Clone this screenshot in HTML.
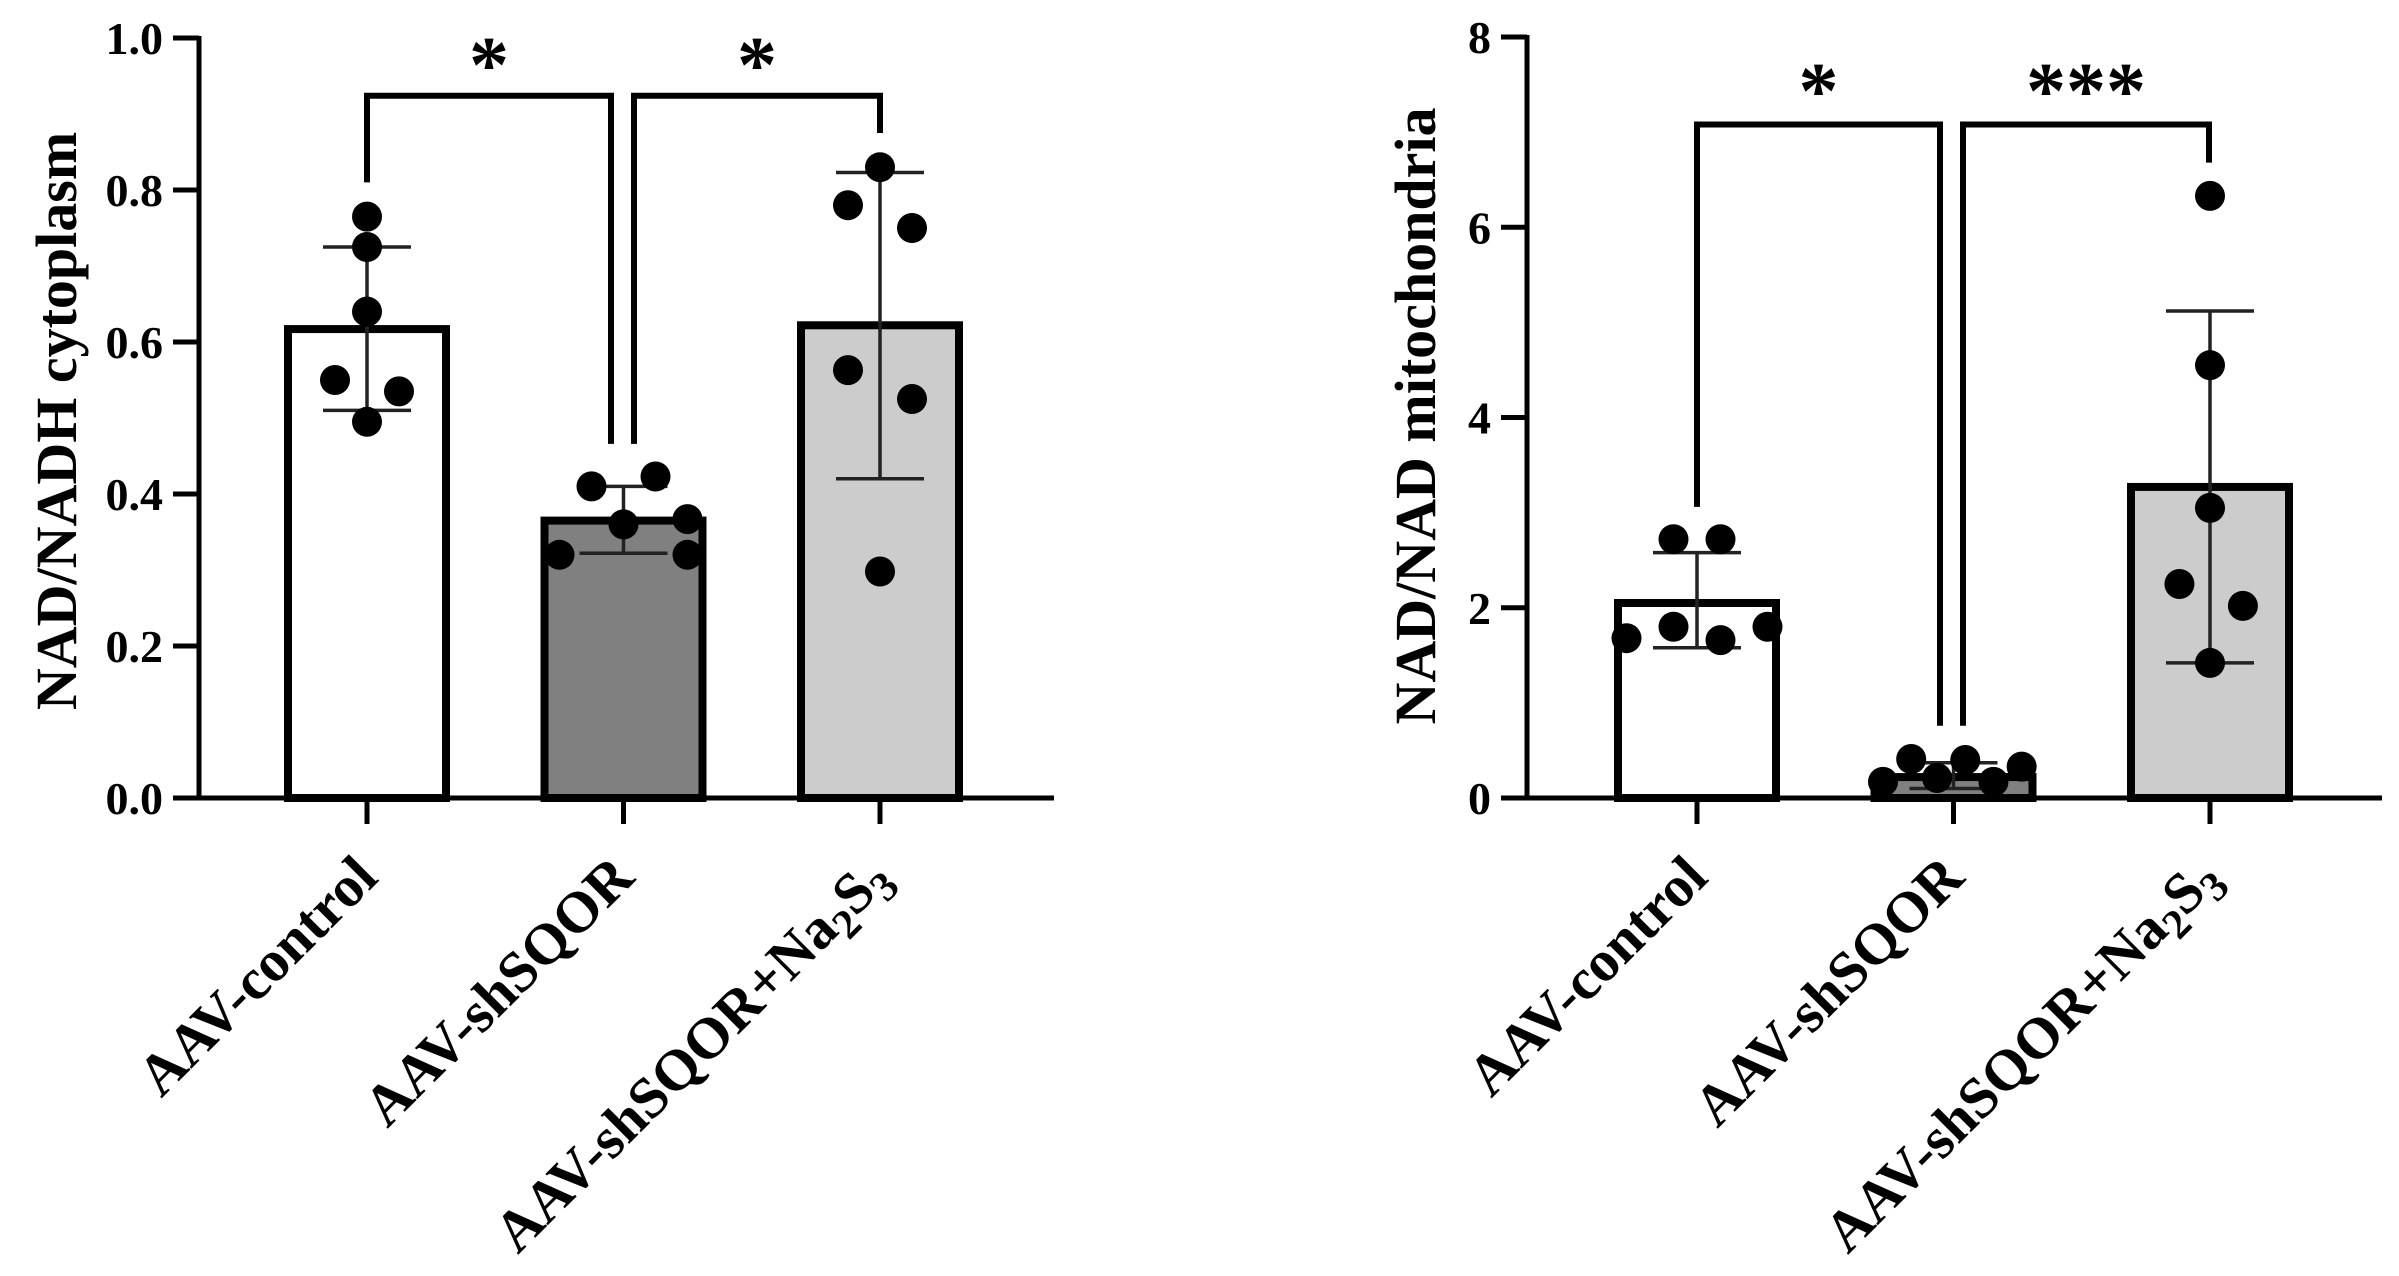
<!DOCTYPE html>
<html><head><meta charset="utf-8"><style>
html,body{margin:0;padding:0;background:#fff;}
svg{display:block;}
text{font-family:"Liberation Serif",serif;font-weight:bold;fill:#000;}
</style></head><body>
<svg id="c" width="2399" height="1276" viewBox="0 0 2399 1276" xmlns="http://www.w3.org/2000/svg"></svg>
<script>
// ---- data ----
const categories = ["AAV-control","AAV-shSQOR","AAV-shSQOR+Na2S3"];
const leftMeans = [0.617, 0.365, 0.622];
const leftSdLow = [0.51, 0.322, 0.42];
const leftSdHigh = [0.725, 0.41, 0.823];
const leftPoints = [[0.765,0.725,0.64,0.55,0.535,0.495],[0.41,0.423,0.36,0.367,0.32,0.32],[0.83,0.78,0.75,0.563,0.525,0.298]];
const leftJitter = [[0,0,0,-1,1,0],[-1,1,0,2,-2,2],[0,-1,1,-1,1,0]];
const leftTicks = [0,0.2,0.4,0.6,0.8,1.0];
const leftTickLabels = ["0.0","0.2","0.4","0.6","0.8","1.0"];
const rightMeans = [2.05, 0.22, 3.27];
const rightSdLow = [1.58, 0.1, 1.42];
const rightSdHigh = [2.58, 0.37, 5.12];
const rightPoints = [[1.68,1.80,1.66,1.80,2.72,2.72],[0.17,0.41,0.21,0.40,0.17,0.33],[6.33,4.55,3.05,2.25,2.02,1.42]];
const rightJitter = [[-3,-1,1,3,-1,1],[-3,-1.8,-0.7,0.5,1.7,2.9],[0,0,0,-1.3,1.4,0]];
const rightTicks = [0,2,4,6,8];
const rightTickLabels = ["0","2","4","6","8"];
const fills = ["#ffffff","#808080","#cccccc"];

const NS="http://www.w3.org/2000/svg";
const svg=document.getElementById('c');
function mk(tag,attrs,parent){const e=document.createElementNS(NS,tag);for(const k in attrs)e.setAttribute(k,attrs[k]);(parent||svg).appendChild(e);return e;}

function panel(p){
  const g=mk('g',{});
  
  
  const y=v=>p.y0-(v-p.ymin)/(p.ymax-p.ymin)*(p.y0-p.y1);
  const x=i=>p.xFirst+i*p.step;
  p.means.forEach((m,i)=>{
    const r=mk('rect',{x:x(i)-p.bw/2,y:y(m),width:p.bw,height:p.y0-y(m),fill:fills[i],stroke:'#000','stroke-width':8},g);
    
    
  });
  p.means.forEach((m,i)=>{
    const e=mk('g',{stroke:'#222','stroke-width':3.5},g);
    
    
    mk('line',{x1:x(i),x2:x(i),y1:y(p.lo[i]),y2:y(p.hi[i])},e);
    mk('line',{x1:x(i)-44,x2:x(i)+44,y1:y(p.hi[i]),y2:y(p.hi[i])},e);
    mk('line',{x1:x(i)-44,x2:x(i)+44,y1:y(p.lo[i]),y2:y(p.lo[i])},e);
  });
  p.pts.forEach((arr,i)=>arr.forEach((v,j)=>{
    const c=mk('circle',{cx:x(i)+p.jit[i][j]*p.jw,cy:y(v),r:15,fill:'#000'},g);
    
    
  }));
  const ax=mk('g',{stroke:'#000','stroke-width':5,fill:'none'},g);
  
  
  mk('line',{x1:p.ax,x2:p.ax,y1:y(p.ymax)-2,y2:p.y0+2},ax);
  mk('line',{x1:p.ax-26,x2:p.xEnd,y1:p.y0,y2:p.y0},ax);
  p.ticks.forEach((t,k)=>{
    mk('line',{x1:p.ax-26,x2:p.ax,y1:y(t),y2:y(t)},ax);
    const tl=mk('text',{x:p.ax-36,y:y(t)+16,'text-anchor':'end','font-size':46},g);
    tl.textContent=p.tickLabels[k];
    
    
  });
  categories.forEach((c,i)=>{
    mk('line',{x1:x(i),x2:x(i),y1:p.y0,y2:p.y0+26},ax);
    const tx=x(i)+13, ty=880;
    const t=mk('text',{x:tx,y:ty,'text-anchor':'end','font-size':58,transform:`rotate(-45 ${tx} ${ty})`},g);
    
    
    if(c.indexOf('Na2S3')>=0){
      t.appendChild(document.createTextNode('AAV-shSQOR+Na'));
      const s1=mk('tspan',{'font-size':42,dy:12},t); s1.textContent='2';
      const s2=mk('tspan',{dy:-12},t); s2.textContent='S';
      const s3=mk('tspan',{'font-size':42,dy:12},t); s3.textContent='3';
    } else t.textContent=c;
  });
  const tt=mk('text',{x:0,y:0,'text-anchor':'middle','font-size':58,transform:`translate(${p.titleX} ${p.titleY}) rotate(-90)`},g);
  tt.textContent=p.title;
  
  
  p.brackets.forEach((b,k)=>{
    const pl=mk('polyline',{points:`${b.x1},${y(b.l1)} ${b.x1},${y(p.by)} ${b.x2},${y(p.by)} ${b.x2},${y(b.l2)}`,fill:'none',stroke:'#000','stroke-width':6},g);
    
    
    const st=mk('text',{x:(b.x1+b.x2)/2,y:p.starY,'text-anchor':'middle','font-size':80},g);
    st.textContent=b.star;
    
    
  });
}

panel({name:'left-panel',ax:199,y0:798,y1:38,ymin:0,ymax:1,xFirst:367,step:256.5,bw:158,xEnd:1054,
  means:leftMeans,lo:leftSdLow,hi:leftSdHigh,pts:leftPoints,jit:leftJitter,jw:32,
  ticks:leftTicks,tickLabels:leftTickLabels,title:'NAD/NADH cytoplasm',titleX:76,titleY:421,
  by:0.924,starY:92,
  brackets:[{x1:367,x2:611,l1:0.81,l2:0.466,star:'*'},{x1:634,x2:880,l1:0.466,l2:0.875,star:'*'}]});
panel({name:'right-panel',ax:1527,y0:798,y1:37,ymin:0,ymax:8,xFirst:1697,step:256.5,bw:158,xEnd:2382,
  means:rightMeans,lo:rightSdLow,hi:rightSdHigh,pts:rightPoints,jit:rightJitter,jw:23.5,
  ticks:rightTicks,tickLabels:rightTickLabels,title:'NAD/NAD mitochondria',titleX:1435,titleY:416,
  by:7.08,starY:118,
  brackets:[{x1:1697,x2:1940,l1:3.06,l2:0.76,star:'*'},{x1:1963,x2:2209,l1:0.76,l2:6.68,star:'***'}]});
</script>
</body></html>
